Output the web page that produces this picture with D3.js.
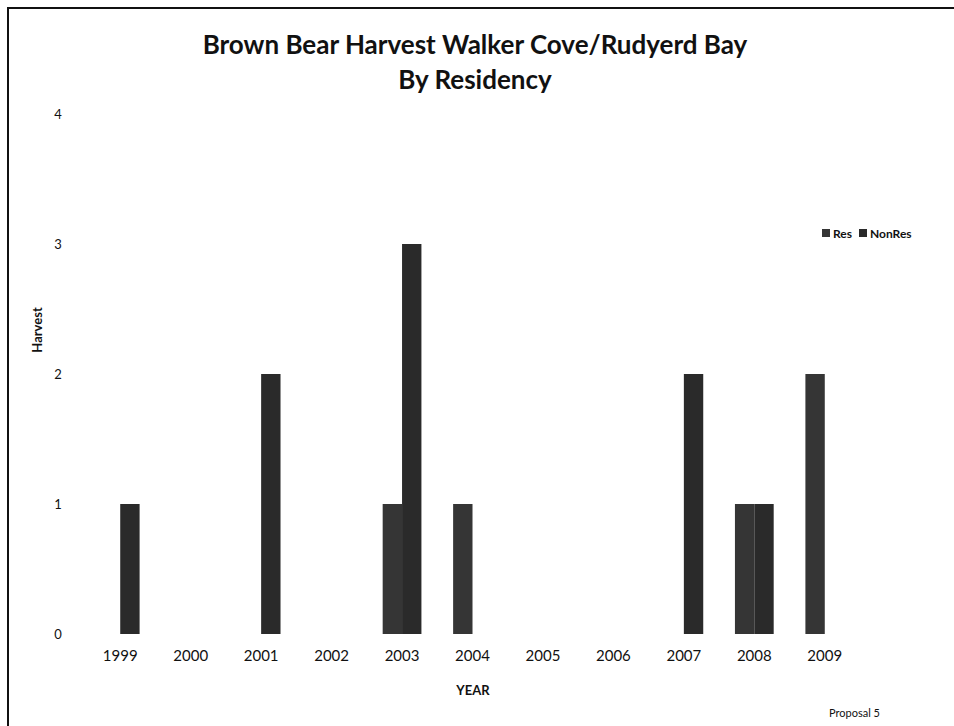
<!DOCTYPE html>
<html>
<head>
<meta charset="utf-8">
<script src="https://cdn.jsdelivr.net/npm/d3@7"></script>
<style>
  body { margin: 0; background: #fff; }
  text { font-family: Lato, "Open Sans", sans-serif; fill: #111; }
</style>
</head>
<body>
<svg id="chart" width="954" height="726"></svg>
<script>
// data
var years = ["1999", "2000", "2001", "2002", "2003", "2004", "2005", "2006", "2007", "2008", "2009"];
var resValues = [0, 0, 0, 0, 1, 1, 0, 0, 0, 1, 2];
var nonResValues = [1, 0, 2, 0, 3, 0, 0, 0, 2, 1, 0];
var seriesNames = ["Res", "NonRes"];
var yTicks = [0, 1, 2, 3, 4];

var svg = d3.select("#chart");

// frame around the whole chart
svg.append("rect")
    .attr("x", 8).attr("y", 8)
    .attr("width", 950).attr("height", 725)
    .attr("fill", "none")
    .attr("stroke", "#111")
    .attr("stroke-width", 2);

var margin = { top: 114, left: 85, right: 94, bottom: 92 };
var width = 954 - margin.left - margin.right;
var height = 726 - margin.top - margin.bottom;

var g = svg.append("g")
    .attr("transform", "translate(" + margin.left + "," + margin.top + ")");

var x = d3.scaleBand().domain(years).range([0, width]).paddingInner(0).paddingOuter(0);
var x1 = d3.scaleBand().domain(seriesNames).range([x.bandwidth() * 0.225, x.bandwidth() * 0.775]);
var y = d3.scaleLinear().domain([0, 4]).range([height, 0]);

var color = { "Res": "#353535", "NonRes": "#2a2a2a" };

var rows = years.map(function (d, i) {
    return { year: d, values: [{ key: "Res", v: resValues[i] }, { key: "NonRes", v: nonResValues[i] }] };
});

var groups = g.selectAll(".grp")
    .data(rows)
    .enter()
    .append("g")
    .attr("class", "grp")
    .attr("transform", function (d) { return "translate(" + x(d.year) + ",0)"; });

groups.selectAll("rect")
    .data(function (d) { return d.values.filter(function (e) { return e.v > 0; }); })
    .enter()
    .append("rect")
    .attr("x", function (d) { return x1(d.key); })
    .attr("y", function (d) { return y(d.v); })
    .attr("width", x1.bandwidth())
    .attr("height", function (d) { return height - y(d.v); })
    .attr("fill", function (d) { return color[d.key]; });

// y axis: labels only
var yAxis = g.append("g")
    .attr("transform", "translate(-24,0)")
    .call(d3.axisLeft(y).tickValues(yTicks).tickSize(0).tickFormat(d3.format("d")));
yAxis.select(".domain").remove();
yAxis.selectAll("text")
    .attr("font-size", 13)
    .attr("text-anchor", "middle")
    .attr("font-family", "Lato, sans-serif")
    .attr("fill", "#111");

// x axis: labels only
var xAxis = g.append("g")
    .attr("transform", "translate(0," + height + ")")
    .call(d3.axisBottom(x).tickSize(0).tickPadding(16));
xAxis.select(".domain").remove();
xAxis.selectAll("text")
    .attr("font-size", 15)
    .attr("font-family", "Lato, sans-serif")
    .attr("fill", "#111");

// titles
svg.append("text")
    .attr("x", 475).attr("y", 54)
    .attr("text-anchor", "middle")
    .attr("font-size", 26)
    .attr("font-weight", "bold")
    .text("Brown Bear Harvest Walker Cove/Rudyerd Bay");

svg.append("text")
    .attr("x", 475).attr("y", 89)
    .attr("text-anchor", "middle")
    .attr("font-size", 26)
    .attr("font-weight", "bold")
    .text("By Residency");

svg.append("text")
    .attr("transform", "translate(42,330) rotate(-90)")
    .attr("text-anchor", "middle")
    .attr("font-size", 13)
    .attr("font-weight", "bold")
    .text("Harvest");

svg.append("text")
    .attr("x", 473).attr("y", 695)
    .attr("text-anchor", "middle")
    .attr("font-size", 13)
    .attr("font-weight", "bold")
    .text("YEAR");

svg.append("text")
    .attr("x", 829).attr("y", 717)
    .attr("font-size", 11)
    .text("Proposal 5");

// legend
var legend = svg.append("g").attr("transform", "translate(822,234)");
var legX = [0, 37];
seriesNames.forEach(function (s, i) {
    legend.append("rect")
        .attr("x", legX[i]).attr("y", -5)
        .attr("width", 8).attr("height", 8)
        .attr("fill", color[s]);
    legend.append("text")
        .attr("x", legX[i] + 11).attr("y", 4)
        .attr("font-size", 12)
        .attr("font-weight", "bold")
        .text(s);
});
</script>
</body>
</html>
